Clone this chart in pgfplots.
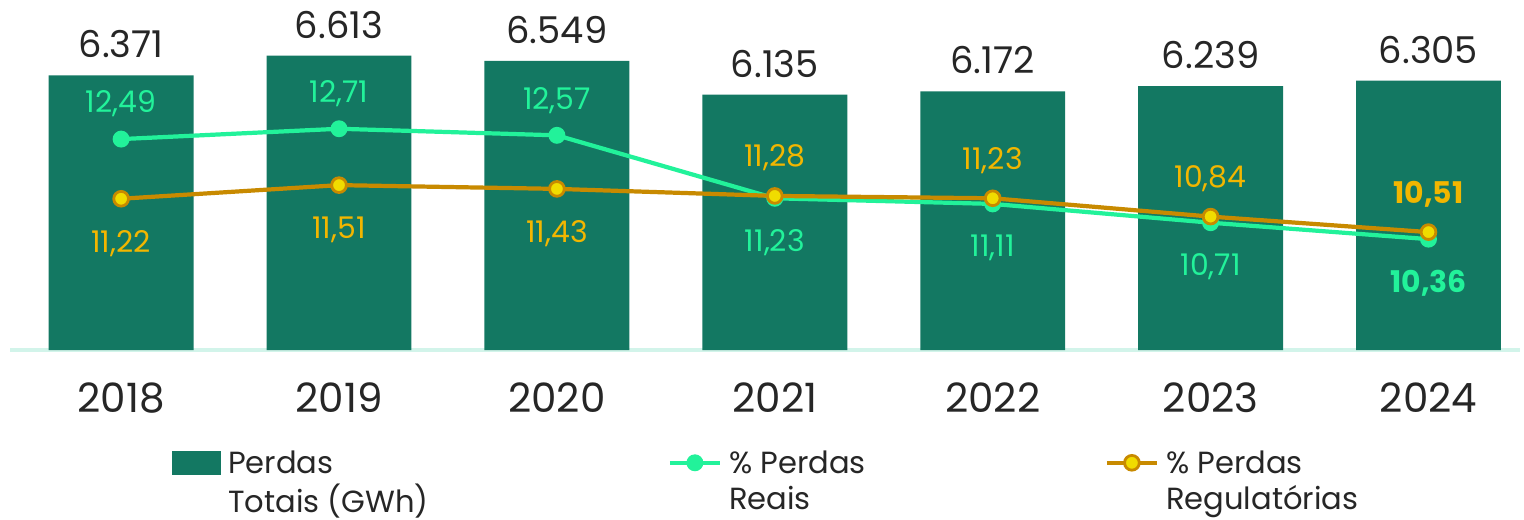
\documentclass[border=0pt]{standalone}
\usepackage{pgfplots}
\pgfplotsset{compat=1.18}
\usepackage{fontspec}
\setmainfont{Poppins}
\definecolor{barcol}{HTML}{137862}
\definecolor{realcol}{HTML}{22F29A}
\definecolor{regcol}{HTML}{C88A00}
\definecolor{regfill}{HTML}{F0DC00}
\definecolor{reglab}{HTML}{F2B600}
\definecolor{txt}{HTML}{262626}
\definecolor{basecol}{HTML}{D2F4EA}
\begin{document}
\begin{tikzpicture}
% bars: Perdas Totais (GWh)
\begin{axis}[
  at={(0.1cm,1.69cm)}, anchor=south west,
  width=15.1cm, height=3.26cm, scale only axis,
  xmin=-0.51, xmax=6.42, ymin=3000, ymax=7000,
  axis y line=none, axis x line*=bottom,
  x axis line style={basecol, line width=1pt, -},
  xtick={0,...,6},
  xticklabels={2018,2019,2020,2021,2022,2023,2024},
  major tick length=0pt,
  xticklabel style={font=\fontsize{11.5}{13}\selectfont, text=txt, anchor=center, yshift=-0.48cm},
  ybar, bar width=0.665,
  point meta=y,
  nodes near coords={\pgfmathprintnumber[assume math mode=true,1000 sep={.}]{\pgfplotspointmeta}},
  every node near coord/.style={anchor=center, yshift=0.31cm, font=\fontsize{10.5}{12}\selectfont, text=txt},
]
\addplot[fill=barcol, draw=none] coordinates {
  (0,6371) (1,6613) (2,6549) (3,6135) (4,6172) (5,6239) (6,6305)
};
\end{axis}
% lines: percentages
\begin{axis}[
  at={(0.1cm,1.69cm)}, anchor=south west,
  width=15.1cm, height=3.26cm, scale only axis,
  xmin=-0.51, xmax=6.42, ymin=8.0, ymax=14.94,
  hide axis, clip=false,
  legend columns=3,
  legend style={at={(0.0997,-0.253)}, anchor=north west, draw=none, fill=none,
    font=\fontsize{8.7}{10.5}\selectfont, text=txt,
    /tikz/every even column/.append style={column sep=2.32cm}},
  legend cell align=left,
  legend image code/.code={\draw[mark repeat=2,mark phase=2,#1] plot coordinates {(0cm,0cm) (0.25cm,0cm) (0.5cm,0cm)};},
]
\addlegendimage{legend image code/.code={\fill[barcol] (0cm,-0.115cm) rectangle (0.48cm,0.115cm);}}
\addlegendentry{\begin{tabular}[t]{@{}l@{}}Perdas\\Totais (GWh)\end{tabular}}
\addplot[realcol, line width=1.2pt, mark=*, mark size=1.8pt, mark options={fill=realcol, draw=realcol}]
  coordinates {(0,12.49) (1,12.71) (2,12.57) (3,11.23) (4,11.11) (5,10.71) (6,10.36)};
\addlegendentry{\begin{tabular}[t]{@{}l@{}}\% Perdas\\Reais\end{tabular}}
\addplot[regcol, line width=1.2pt, mark=*, mark size=2.1pt, mark options={fill=regfill, draw=regcol, line width=0.8pt}]
  coordinates {(0,11.22) (1,11.51) (2,11.43) (3,11.28) (4,11.23) (5,10.84) (6,10.51)};
\addlegendentry{\begin{tabular}[t]{@{}l@{}}\% Perdas\\Regulatórias\end{tabular}}
% value labels, real losses
\addplot[draw=none, forget plot, point meta=explicit symbolic, nodes near coords,
  every node near coord/.style={anchor=center, yshift=0.35cm, font=\fontsize{8.5}{10}\selectfont, text=realcol}]
  coordinates {(0,12.49) [12,49] (1,12.71) [12,71] (2,12.57) [12,57]};
\addplot[draw=none, forget plot, point meta=explicit symbolic, nodes near coords,
  every node near coord/.style={anchor=center, yshift=-0.44cm, font=\fontsize{8.5}{10}\selectfont, text=realcol}]
  coordinates {(3,11.23) [11,23] (4,11.11) [11,11] (5,10.71) [10,71] (6,10.36) [\textbf{10,36}]};
% value labels, regulatory losses
\addplot[draw=none, forget plot, point meta=explicit symbolic, nodes near coords,
  every node near coord/.style={anchor=center, yshift=-0.45cm, font=\fontsize{8.5}{10}\selectfont, text=reglab}]
  coordinates {(0,11.22) [11,22] (1,11.51) [11,51] (2,11.43) [11,43]};
\addplot[draw=none, forget plot, point meta=explicit symbolic, nodes near coords,
  every node near coord/.style={anchor=center, yshift=0.38cm, font=\fontsize{8.5}{10}\selectfont, text=reglab}]
  coordinates {(3,11.28) [11,28] (4,11.23) [11,23] (5,10.84) [10,84] (6,10.51) [\textbf{10,51}]};
\end{axis}
\pgfresetboundingbox
\path (0,0) rectangle (15.24,5.19);
\end{tikzpicture}
\end{document}
